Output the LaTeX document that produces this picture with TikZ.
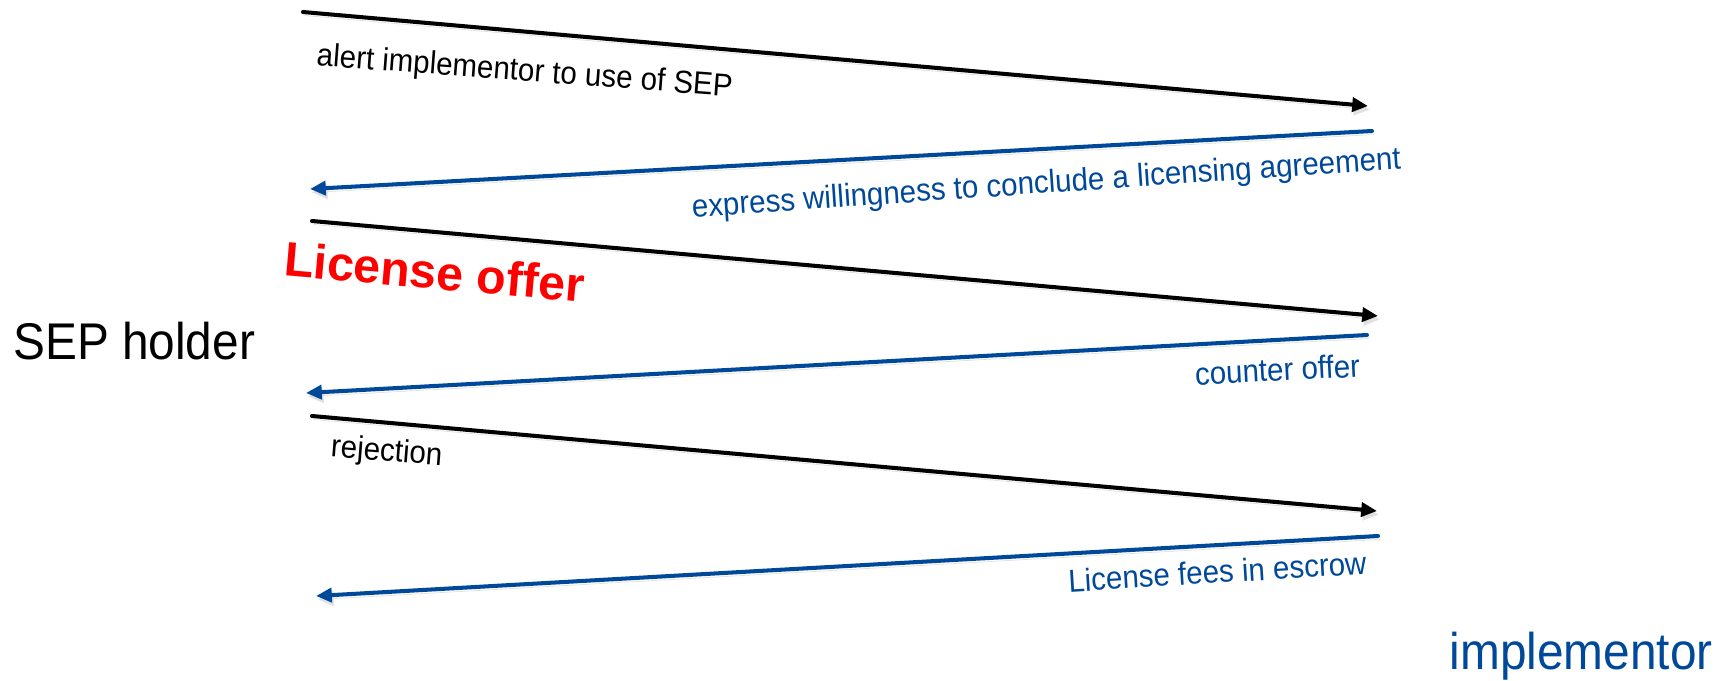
\documentclass[tikz,border=0pt]{standalone}
\usepackage{fontspec}
\setmainfont{Liberation Sans}
\usetikzlibrary{arrows.meta}

\begin{document}
\begin{tikzpicture}
		[x=0.02cm,y=-0.02cm,line cap=round,
		%Styles
		message/.style={line width=2.3pt,-{Triangle[length=9pt,width=8pt]},
			preaction={draw,black!12,transform canvas={shift={(1pt,-2pt)}}}},
		reply/.style={message,draw=seprblue,fill=seprblue},
		party/.style={inner sep=0pt,yscale=1.08,font=\fontsize{27.2}{30}\selectfont},
		small label/.style={inner sep=0pt,font=\fontsize{16.8}{18}\selectfont}
		]
		
		%Colors
		\definecolor{seprblue}{RGB}{0,72,153}	%answers of the implementor
		
		%The graphic
		\useasboundingbox (0, 0) rectangle (1730, 680);
		
		\node[party,anchor=base west] (holder) at (13, 359) {SEP holder};
		\node[party,anchor=base east,text=seprblue] (implementor) at (1713, 669) {implementor};
		
		\coordinate (h1) at (303, 12);   \coordinate (i1) at (1368, 106);
		\coordinate (i2) at (1372, 131); \coordinate (h2) at (310, 189);
		\coordinate (h3) at (312, 221);  \coordinate (i3) at (1378, 316);
		\coordinate (i4) at (1367, 335); \coordinate (h4) at (306, 393);
		\coordinate (h5) at (312, 416);  \coordinate (i5) at (1377, 511);
		\coordinate (i6) at (1378, 536); \coordinate (h6) at (316, 596);
		
		\draw[message] (h1) -- (i1);
		\draw[reply] (i2) -- (h2);
		\draw[message] (h3) -- (i3);
		\draw[reply] (i4) -- (h4);
		\draw[message] (h5) -- (i5);
		\draw[reply] (i6) -- (h6);
		
		\node[small label,anchor=base,rotate=-4.3,yscale=1.08] (alert) at (524, 81)
			{alert implementor to use of SEP};
		\node[small label,anchor=base,rotate=3.9,yscale=1.08,text=seprblue] (willing) at (1047, 193)
			{express willingness to conclude a licensing agreement};
		\node[anchor=base,rotate=-5,inner sep=0pt,text=red,
			font=\bfseries\fontsize{27.5}{30}\selectfont] (offer) at (433, 289) {License offer};
		\node[small label,anchor=base,rotate=3,yscale=1.08,text=seprblue] (counter) at (1278, 381)
			{counter offer};
		\node[small label,anchor=base,rotate=-4.5,yscale=1.08] (rejection) at (386, 461) {rejection};
		\node[small label,anchor=base,rotate=3.5,yscale=1.08,text=seprblue] (escrow) at (1218, 583)
			{License fees in escrow};
	\end{tikzpicture}
\end{document}
